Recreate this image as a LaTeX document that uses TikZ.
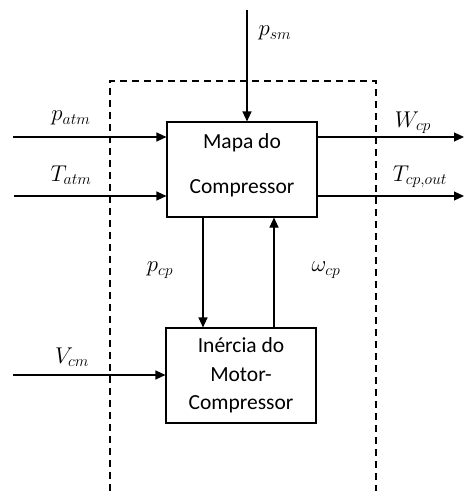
\documentclass[tikz,border=0pt]{standalone}
\usepackage{fontspec}
\setmainfont{Carlito}
\usetikzlibrary{arrows.meta}
\tikzset{
  blk/.style={draw, line width=1.1pt, minimum width=150pt, minimum height=95pt, inner sep=0pt},
  conn/.style={line width=1.1pt, -{Triangle[length=10pt,width=9pt]}},
  lbl/.style={font=\huge, inner sep=0pt, scale=1.1},
  dash box/.style={line width=1.1pt, dash pattern=on 7pt off 5pt},
}
\begin{document}
\begin{tikzpicture}[x=1pt,y=-1pt]
\useasboundingbox (0,0) rectangle (465,491);
% dashed boundary (open at bottom)
\draw[dash box] (110,491) -- (110,81) -- (376,81) -- (376,491);
% blocks
\node[blk] (comp) at (242,169.5) {};
\node[font=\fontsize{21.5}{26}\selectfont, inner sep=0pt] (compA) at (242,143) {Mapa do};
\node[font=\fontsize{21.5}{26}\selectfont, inner sep=0pt] (compB) at (242,188) {Compressor};
\node[blk, align=center, font=\fontsize{21.5}{28.5}\selectfont] (inert) at (241,375.5) {In\'ercia do\\Motor-\\Compressor};
% end coordinates
\coordinate (psmS) at (247,10);
\coordinate (patmS) at (13,137);
\coordinate (tatmS) at (14,196);
\coordinate (wcpE) at (464,137);
\coordinate (tcpE) at (464,196);
\coordinate (vcmS) at (13,375);
% connectors
\draw[conn] (psmS) -- (psmS |- comp.north);
\draw[conn] (patmS) -- (comp.west |- patmS);
\draw[conn] (tatmS) -- (comp.west |- tatmS);
\draw[conn] (comp.east |- wcpE) -- (wcpE);
\draw[conn] (comp.east |- tcpE) -- (tcpE);
\draw[conn] (comp.south -| 203,0) -- (inert.north -| 203,0);
\draw[conn] (inert.north -| 274,0) -- (comp.south -| 274,0);
\draw[conn] (vcmS) -- (inert.west |- vcmS);
% labels
\node[lbl] (lpsm) at (275,33) {$p_{sm}$};
\node[lbl] (lpatm) at (71,118) {$p_{atm}$};
\node[lbl] (ltatm) at (71,175) {$T_{atm}$};
\node[lbl] (lwcp) at (413,123) {$W_{cp}$};
\node[lbl] (ltcp) at (420,177) {$T_{cp,out}$};
\node[lbl] (lpcp) at (160,270) {$p_{cp}$};
\node[lbl] (lomega) at (326,270) {$\omega_{cp}$};
\node[lbl] (lvcm) at (72,357) {$V_{cm}$};
\end{tikzpicture}
\end{document}
